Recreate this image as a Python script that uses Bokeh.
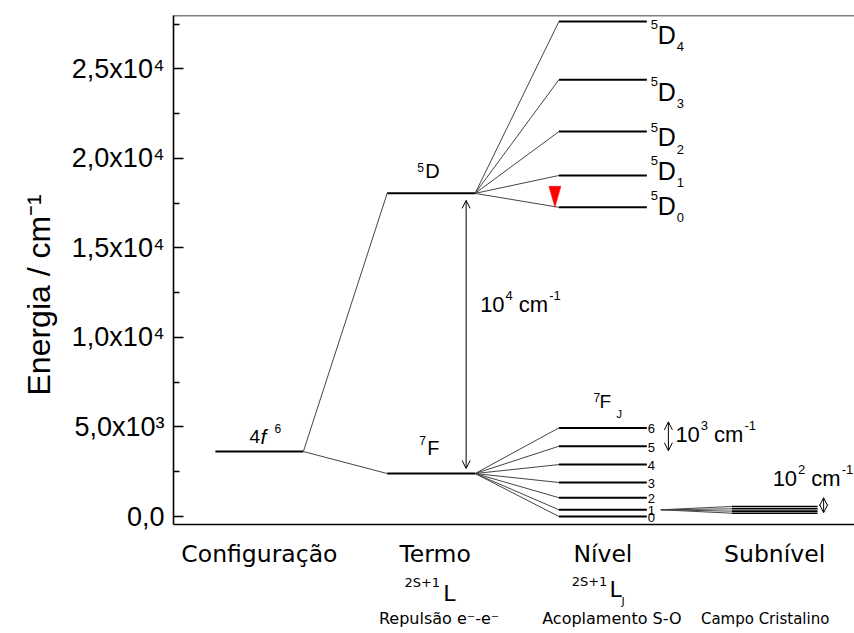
from bokeh.plotting import figure
from bokeh.models import Label, Arrow, OpenHead, FixedTicker, Span, Title
from bokeh.embed import file_html
from bokeh.resources import INLINE

# ---------------- data ----------------
COLUMNS = ["Configuração", "Termo", "Nível", "Subnível"]
COL_X = [1, 2, 3, 4]
COL_NOTES = ["", "Repulsão e⁻-e⁻", "Acoplamento S-O", "Campo Cristalino"]

CONFIG_E = 3630                  # 4f6
TERM_E = [18050, 2400]           # 5D, 7F
D_J = [0, 1, 2, 3, 4]
D_E = [17270, 19050, 21500, 24400, 27650]
F_J = [0, 1, 2, 3, 4, 5, 6]
F_E = [0, 375, 1050, 1900, 2900, 3925, 4950]
SUB_E = [185, 300, 430, 560]     # crystal-field sublevels of 7F1

Y_TICKS = [0, 5000, 10000, 15000, 20000, 25000]
Y_TICK_LABELS = ["0,0", "5,0x10³", "1,0x10⁴", "1,5x10⁴", "2,0x10⁴", "2,5x10⁴"]
Y_MINOR = [2500, 7500, 12500, 17500, 22500, 27500]

# ---------------- layout constants ----------------
PXX = 1 / 171.75    # data-x per screen px
PXY = 55.86         # energy per screen px
Y0, Y1 = -8 * PXY, 501 * PXY          # drawn frame (bottom line, top line)
Y_BOT = -117 * PXY                    # canvas bottom (room for captions)
HW = 0.256          # half width of a level line
HW_SUB = 0.25
ARIAL = "Liberation Sans"
TAHOMA = "DejaVu Sans"

p = figure(width=854, height=633, x_range=(0.5, 4.465), y_range=(Y_BOT, Y1),
           x_axis_type=None, output_backend="svg", toolbar_location=None,
           min_border_left=173, min_border_right=0, min_border_top=15,
           min_border_bottom=0)
p.grid.grid_line_color = None
p.outline_line_color = None
p.background_fill_color = "white"
p.border_fill_color = "white"

for loc in (Y0, Y1):
    p.add_layout(Span(location=loc, dimension="width", line_color="black", line_width=1.6))

ax = p.yaxis[0]
ax.bounds = (Y0, Y1)
ax.ticker = FixedTicker(ticks=Y_TICKS, minor_ticks=Y_MINOR)
ax.major_label_overrides = dict(zip(Y_TICKS, Y_TICK_LABELS))
ax.major_label_text_font = ARIAL
ax.major_label_text_font_size = "27px"
ax.major_label_text_color = "black"
ax.major_label_standoff = 9
ax.axis_line_width = 1.6
ax.axis_line_color = "black"
ax.major_tick_in = 10
ax.major_tick_out = 0
ax.minor_tick_in = 6
ax.minor_tick_out = 0
ax.major_tick_line_width = 1.5
ax.minor_tick_line_width = 1.5
ax.major_tick_line_color = "black"
ax.minor_tick_line_color = "black"

p.add_layout(Title(text="Energia / cm⁻¹", align="left", offset=238, standoff=24,
                   text_font=ARIAL, text_font_size="32px", text_font_style="normal",
                   text_color="black"), "left")

# ---------------- level lines ----------------
lx, ly = [], []
lx.append([COL_X[0] - HW, COL_X[0] + HW]); ly.append([CONFIG_E, CONFIG_E])
for e in TERM_E:
    lx.append([COL_X[1] - HW, COL_X[1] + HW]); ly.append([e, e])
for e in D_E + F_E:
    lx.append([COL_X[2] - HW, COL_X[2] + HW]); ly.append([e, e])
p.multi_line(xs=lx, ys=ly, line_color="black", line_width=2)

sx, sy = [], []
for e in SUB_E:
    sx.append([COL_X[3] - HW_SUB, COL_X[3] + HW_SUB]); sy.append([e, e])
p.multi_line(xs=sx, ys=sy, line_color="black", line_width=1.6)

# ---------------- connectors ----------------
cx, cy = [], []
for e in TERM_E:
    cx.append([COL_X[0] + HW, COL_X[1] - HW]); cy.append([CONFIG_E, e])
for e in D_E:
    cx.append([COL_X[1] + HW, COL_X[2] - HW]); cy.append([TERM_E[0], e])
for e in F_E:
    cx.append([COL_X[1] + HW, COL_X[2] - HW]); cy.append([TERM_E[1], e])
FAN_X = COL_X[2] + HW + 14 * PXX
for e in SUB_E:
    cx.append([FAN_X, COL_X[3] - HW_SUB]); cy.append([F_E[1], e])
p.multi_line(xs=cx, ys=cy, line_color="#444444", line_width=1)

# red marker above 5D0
tri_x = COL_X[2] - HW - 4 * PXX
tri_w = 6 * PXX
tri_h = 21 * PXY
p.patch([tri_x - tri_w, tri_x + tri_w, tri_x],
        [D_E[0] + tri_h, D_E[0] + tri_h, D_E[0]],
        fill_color="#ff0000", line_color="#ff0000", line_width=0.5)

# ---------------- arrows ----------------
def arrow(x, y0, y1):
    p.add_layout(Arrow(start=OpenHead(size=8, line_width=1), end=OpenHead(size=8, line_width=1),
                       x_start=x, y_start=y0, x_end=x, y_end=y1,
                       line_width=1, line_color="black"))

ARROW4_X = COL_X[1] + 35 * PXX
ARROW3_X = COL_X[2] + 65.5 * PXX
ARROW2_X = COL_X[3] + 49 * PXX
arrow(ARROW4_X, TERM_E[0] - 7 * PXY, TERM_E[1] + 5 * PXY)
arrow(ARROW3_X, F_E[6] + 6 * PXY, F_E[5] - 4.5 * PXY)
arrow(ARROW2_X, F_E[2], SUB_E[0] + 0.5 * PXY)

# ---------------- text helpers ----------------
def put(x, y, text, size, dx=0, dy=0, align="left", baseline="alphabetic",
        font=ARIAL, style="normal"):
    # dy is the baseline height above the anchor; draw with a middle baseline
    if baseline == "alphabetic":
        dy = dy + 0.35 * size
    p.add_layout(Label(x=x, y=y, x_offset=dx, y_offset=dy, text=text,
                       text_font=font, text_font_size=f"{size}px",
                       text_align=align, text_baseline="middle",
                       text_font_style=style, text_color="black"))

AW = {"c": 0.5, "m": 0.833, "-": 0.333}

def width(text, size):
    return sum(AW.get(ch, 0.556) for ch in text) * size

def run(x, y, dx, dy, parts):
    for text, size, rise, gap in parts:
        dx += gap
        put(x, y, text, size, dx=dx, dy=dy + rise)
        dx += width(text, size)

def unit(power):
    return [("10", 22, 0, 0), (power, 13, 12, 1), ("cm", 22, 0, 6), ("-1", 13, 12, 1)]

# configuration label 4f6
put(COL_X[0], CONFIG_E, "4", 19, dx=-10, dy=8)
put(COL_X[0], CONFIG_E, "f", 21, dx=1, dy=8, style="italic")
put(COL_X[0], CONFIG_E, "6", 12, dx=15, dy=19)

# term labels
put(COL_X[1], TERM_E[0], "D", 20, dx=-6, dy=15.5)
put(COL_X[1], TERM_E[0], "5", 12, dx=-14, dy=22)
put(COL_X[1], TERM_E[1], "F", 20, dx=-4, dy=19)
put(COL_X[1], TERM_E[1], "7", 12, dx=-12, dy=29)

# 5DJ labels
D_LABEL_DY = [2, 5, -5, -11.7, -13]
for j, e, off in zip(D_J, D_E, D_LABEL_DY):
    put(COL_X[2] + HW, e, "5", 13, dx=4, dy=off + 5)
    put(COL_X[2] + HW, e, "D", 25, dx=11, dy=off - 9)
    put(COL_X[2] + HW, e, str(j), 13, dx=30, dy=off - 17)

# 7FJ labels
for j, e in zip(F_J, F_E):
    put(COL_X[2] + HW, e, str(j), 13, dx=1, dy=-1, baseline="middle")
put(COL_X[2], F_E[6], "F", 19, dx=-3.5, dy=19.3)
put(COL_X[2], F_E[6], "7", 12, dx=-9.5, dy=26)
put(COL_X[2], F_E[6], "J", 11, dx=13.5, dy=10)

# energy gap labels
run(ARROW4_X, (TERM_E[0] + TERM_E[1]) / 2, 14, 21, unit("4"))
run(ARROW3_X, F_E[5], 7, 3.7, unit("3"))
run(ARROW2_X, F_E[2], -51, 11.3, unit("2"))

# ---------------- column captions below the frame ----------------
TITLE_DX = [0, 4, 0, 0]
NOTE_DX = [0, 8, 9, -9.5]
NOTE_SIZE = [16, 16, 16, 15]
for x, name, note, tdx, ndx, ns in zip(COL_X, COLUMNS, COL_NOTES, TITLE_DX, NOTE_DX, NOTE_SIZE):
    put(x, Y0, name, 23.5, dx=tdx, dy=-37.5, align="center", font=TAHOMA)
    if note:
        put(x, Y0, note, ns, dx=ndx, dy=-100, align="center", font=TAHOMA)

put(COL_X[1], Y0, "2S+1", 13, dx=9, dy=-63, align="right", font=TAHOMA)
put(COL_X[1], Y0, "L", 22, dx=12, dy=-76.7, font=TAHOMA)
put(COL_X[2], Y0, "2S+1", 13, dx=4.5, dy=-62, align="right", font=TAHOMA)
put(COL_X[2], Y0, "L", 22, dx=6.5, dy=-73, font=TAHOMA)
put(COL_X[2], Y0, "J", 11, dx=18.5, dy=-81, font=TAHOMA)

open("out.html", "w").write(file_html(p, INLINE))
